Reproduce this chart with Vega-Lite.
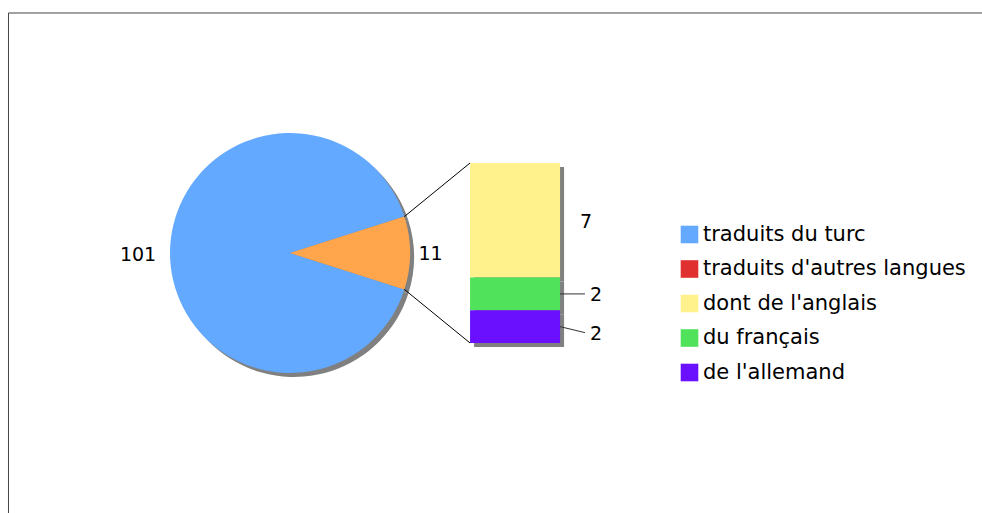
{
  "$schema": "https://vega.github.io/schema/vega-lite/v6.json",
  "width": 982,
  "height": 513,
  "autosize": {"type": "none"},
  "padding": 0,
  "background": "#ffffff",
  "config": {
    "view": {"stroke": null},
    "text": {"font": "DejaVu Sans", "fontSize": 19, "color": "#000000"}
  },
  "datasets": {
    "camembert": [
      {"categorie": "traduits du turc", "n": 101, "ordre": 2},
      {"categorie": "traduits d'autres langues", "n": 11, "ordre": 1}
    ],
    "barre": [
      {"categorie": "dont de l'anglais", "n": 7, "ordre": 3},
      {"categorie": "du français", "n": 2, "ordre": 2},
      {"categorie": "de l'allemand", "n": 2, "ordre": 1}
    ],
    "vide": [{}]
  },
  "layer": [
    {
      "data": {"name": "vide"},
      "mark": {"type": "rect", "fill": null, "stroke": "#444444", "strokeWidth": 1, "clip": true},
      "encoding": {
        "x": {"datum": 0.5193, "type": "quantitative", "scale": {"domain": [0, 60], "nice": false, "zero": false}, "axis": null},
        "x2": {"datum": 70},
        "y": {"datum": 20.167, "type": "quantitative", "scale": {"domain": [-10.389, 20.961], "nice": false, "zero": false}, "axis": null},
        "y2": {"datum": -20}
      }
    },
    {
      "data": {"name": "camembert"},
      "mark": {"type": "arc", "outerRadius": 120, "fill": "#808080", "xOffset": 4, "yOffset": 4},
      "encoding": {
        "x": {"datum": 17.72, "type": "quantitative", "scale": {"domain": [0, 60], "nice": false, "zero": false}, "axis": null},
        "y": {"datum": 5.5, "type": "quantitative", "scale": {"domain": [-10.389, 20.961], "nice": false, "zero": false}, "axis": null},
        "theta": {"field": "n", "type": "quantitative", "stack": true, "scale": {"range": [1.2622, 7.5454]}},
        "order": {"field": "ordre", "type": "quantitative"}
      }
    },
    {
      "data": {"name": "camembert"},
      "mark": {"type": "arc", "outerRadius": 120},
      "encoding": {
        "x": {"datum": 17.72, "type": "quantitative", "scale": {"domain": [0, 60], "nice": false, "zero": false}, "axis": null},
        "y": {"datum": 5.5, "type": "quantitative", "scale": {"domain": [-10.389, 20.961], "nice": false, "zero": false}, "axis": null},
        "theta": {"field": "n", "type": "quantitative", "stack": true, "scale": {"range": [1.2622, 7.5454]}},
        "order": {"field": "ordre", "type": "quantitative"},
        "color": {
          "field": "categorie",
          "type": "nominal",
          "condition": {"test": "datum.categorie === \"traduits d'autres langues\"", "value": "#ffa64d"},
          "scale": {
            "domain": ["traduits du turc", "traduits d'autres langues", "dont de l'anglais", "du français", "de l'allemand"],
            "range": ["#63a9ff", "#e0302f", "#fff28c", "#50e25a", "#6a10ff"]
          },
          "legend": {
            "title": null, "orient": "none", "legendX": 679, "legendY": 224, "padding": 0,
            "symbolType": "square", "symbolSize": 310, "symbolStrokeWidth": 0, "symbolOpacity": 1,
            "labelFont": "DejaVu Sans", "labelFontSize": 21, "labelColor": "#000000", "labelLimit": 500,
            "labelOffset": 3, "rowPadding": 12.5
          }
        }
      }
    },
    {
      "data": {"name": "camembert"},
      "mark": {"type": "text", "radius": 152, "dy": 1.5},
      "encoding": {
        "x": {"datum": 17.72, "type": "quantitative", "scale": {"domain": [0, 60], "nice": false, "zero": false}, "axis": null},
        "y": {"datum": 5.5, "type": "quantitative", "scale": {"domain": [-10.389, 20.961], "nice": false, "zero": false}, "axis": null},
        "theta": {"field": "n", "type": "quantitative", "stack": true, "scale": {"range": [1.2622, 7.5454]}},
        "order": {"field": "ordre", "type": "quantitative"},
        "text": {"condition": {"test": "datum.categorie === 'traduits du turc'", "field": "n", "type": "quantitative"}, "value": ""}
      }
    },
    {
      "data": {"name": "camembert"},
      "mark": {"type": "text", "radius": 140.5, "dy": 1.5},
      "encoding": {
        "x": {"datum": 17.72, "type": "quantitative", "scale": {"domain": [0, 60], "nice": false, "zero": false}, "axis": null},
        "y": {"datum": 5.5, "type": "quantitative", "scale": {"domain": [-10.389, 20.961], "nice": false, "zero": false}, "axis": null},
        "theta": {"field": "n", "type": "quantitative", "stack": true, "scale": {"range": [1.2622, 7.5454]}},
        "order": {"field": "ordre", "type": "quantitative"},
        "text": {"condition": {"test": "datum.categorie !== 'traduits du turc'", "field": "n", "type": "quantitative"}, "value": ""}
      }
    },
    {
      "data": {"name": "vide"},
      "mark": {"type": "rule", "stroke": "#000000", "strokeWidth": 1},
      "encoding": {
        "x": {"datum": 24.70, "type": "quantitative", "scale": {"domain": [0, 60], "nice": false, "zero": false}, "axis": null},
        "x2": {"datum": 28.72},
        "y": {"datum": 7.72, "type": "quantitative", "scale": {"domain": [-10.389, 20.961], "nice": false, "zero": false}, "axis": null},
        "y2": {"datum": 11}
      }
    },
    {
      "data": {"name": "vide"},
      "mark": {"type": "rule", "stroke": "#000000", "strokeWidth": 1},
      "encoding": {
        "x": {"datum": 24.70, "type": "quantitative", "scale": {"domain": [0, 60], "nice": false, "zero": false}, "axis": null},
        "x2": {"datum": 28.72},
        "y": {"datum": 3.28, "type": "quantitative", "scale": {"domain": [-10.389, 20.961], "nice": false, "zero": false}, "axis": null},
        "y2": {"datum": 0}
      }
    },
    {
      "data": {"name": "barre"},
      "transform": [
        {"stack": "n", "groupby": [], "sort": [{"field": "ordre", "order": "ascending"}], "as": ["y0", "y1"]}
      ],
      "layer": [
        {
          "mark": {"type": "rect", "fill": "#808080", "xOffset": 4, "x2Offset": 4, "yOffset": 4, "y2Offset": 4},
          "encoding": {
            "x": {"datum": 28.72, "type": "quantitative", "scale": {"domain": [0, 60], "nice": false, "zero": false}, "axis": null},
            "x2": {"datum": 34.22},
            "y": {"field": "y0", "type": "quantitative", "scale": {"domain": [-10.389, 20.961], "nice": false, "zero": false}, "axis": null},
            "y2": {"field": "y1"}
          }
        },
        {
          "mark": {"type": "rect"},
          "encoding": {
            "x": {"datum": 28.72, "type": "quantitative", "scale": {"domain": [0, 60], "nice": false, "zero": false}, "axis": null},
            "x2": {"datum": 34.22},
            "y": {"field": "y0", "type": "quantitative", "scale": {"domain": [-10.389, 20.961], "nice": false, "zero": false}, "axis": null},
            "y2": {"field": "y1"},
            "color": {
              "field": "categorie",
              "type": "nominal",
              "scale": {
                "domain": ["traduits du turc", "traduits d'autres langues", "dont de l'anglais", "du français", "de l'allemand"],
                "range": ["#63a9ff", "#e0302f", "#fff28c", "#50e25a", "#6a10ff"]
              },
              "legend": {
                "title": null, "orient": "none", "legendX": 679, "legendY": 224, "padding": 0,
                "symbolType": "square", "symbolSize": 310, "symbolStrokeWidth": 0, "symbolOpacity": 1,
                "labelFont": "DejaVu Sans", "labelFontSize": 21, "labelColor": "#000000", "labelLimit": 500,
                "labelOffset": 3, "rowPadding": 12.5
              }
            }
          }
        },
        {
          "transform": [
            {"fold": ["y0", "y1"], "as": ["borne", "v"]},
            {"aggregate": [{"op": "mean", "field": "v", "as": "milieu"}], "groupby": ["categorie", "n", "ordre"]}
          ],
          "layer": [
            {
              "transform": [{"filter": "datum.ordre === 3"}],
              "mark": {"type": "text", "dy": 2},
              "encoding": {
                "x": {"datum": 35.80, "type": "quantitative", "scale": {"domain": [0, 60], "nice": false, "zero": false}, "axis": null},
                "y": {"field": "milieu", "type": "quantitative", "scale": {"domain": [-10.389, 20.961], "nice": false, "zero": false}, "axis": null},
                "text": {"field": "n", "type": "quantitative"}
              }
            },
            {
              "transform": [{"filter": "datum.ordre === 2"}],
              "mark": {"type": "text", "dy": 1.5},
              "encoding": {
                "x": {"datum": 36.42, "type": "quantitative", "scale": {"domain": [0, 60], "nice": false, "zero": false}, "axis": null},
                "y": {"field": "milieu", "type": "quantitative", "scale": {"domain": [-10.389, 20.961], "nice": false, "zero": false}, "axis": null},
                "text": {"field": "n", "type": "quantitative"}
              }
            },
            {
              "transform": [{"filter": "datum.ordre === 1"}],
              "mark": {"type": "text", "dy": 7.5},
              "encoding": {
                "x": {"datum": 36.42, "type": "quantitative", "scale": {"domain": [0, 60], "nice": false, "zero": false}, "axis": null},
                "y": {"field": "milieu", "type": "quantitative", "scale": {"domain": [-10.389, 20.961], "nice": false, "zero": false}, "axis": null},
                "text": {"field": "n", "type": "quantitative"}
              }
            },
            {
              "transform": [{"filter": "datum.ordre === 2"}],
              "mark": {"type": "rule", "stroke": "#333333", "strokeWidth": 1},
              "encoding": {
                "x": {"datum": 34.22, "type": "quantitative", "scale": {"domain": [0, 60], "nice": false, "zero": false}, "axis": null},
                "x2": {"datum": 35.74},
                "y": {"field": "milieu", "type": "quantitative", "scale": {"domain": [-10.389, 20.961], "nice": false, "zero": false}, "axis": null},
                "y2": {"field": "milieu"}
              }
            },
            {
              "transform": [{"filter": "datum.ordre === 1"}],
              "mark": {"type": "rule", "stroke": "#333333", "strokeWidth": 1, "y2Offset": 6},
              "encoding": {
                "x": {"datum": 34.22, "type": "quantitative", "scale": {"domain": [0, 60], "nice": false, "zero": false}, "axis": null},
                "x2": {"datum": 35.74},
                "y": {"field": "milieu", "type": "quantitative", "scale": {"domain": [-10.389, 20.961], "nice": false, "zero": false}, "axis": null},
                "y2": {"field": "milieu"}
              }
            }
          ]
        }
      ]
    }
  ]
}
